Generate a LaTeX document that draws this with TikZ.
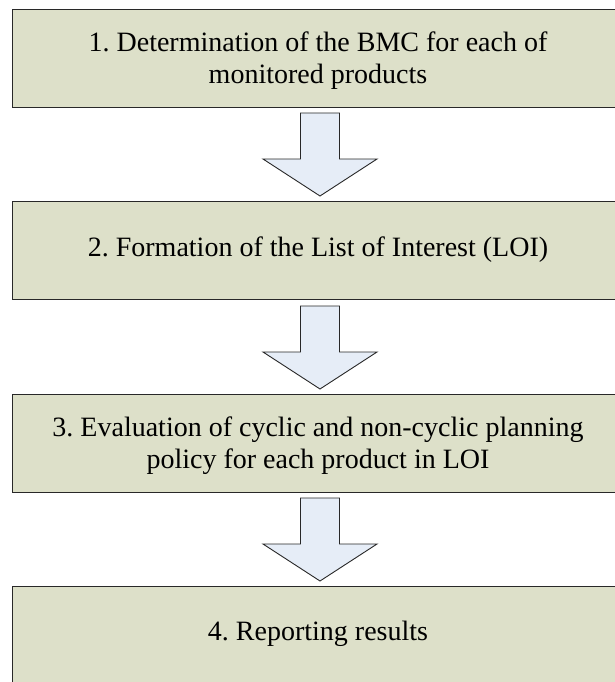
\documentclass[tikz,border=0pt]{standalone}
\usepackage{fontspec}
\setmainfont{Liberation Serif}
\frenchspacing
\definecolor{boxfill}{RGB}{221,224,201}
\definecolor{arrfill}{RGB}{230,237,247}
\definecolor{boxline}{RGB}{40,40,40}
\begin{document}
\begin{tikzpicture}[x=1pt,y=-1pt,
  stepbox/.style={draw=boxline,line width=1.4pt,fill=boxfill,minimum width=613pt,minimum height=98pt,anchor=north west,inner sep=0pt},
  steptext/.style={align=center,inner sep=0pt,font=\fontsize{28}{32}\selectfont},
  bigarrow/.style={draw=boxline,line width=0.9pt,fill=arrfill,line join=miter}]
\useasboundingbox (0,0) rectangle (614,682);
\node[stepbox] (b1) at (11.5,9) {};
\node[stepbox] (b2) at (11.5,201) {};
\node[stepbox] (b3) at (11.5,394) {};
\node[stepbox] (b4) at (11.5,586) {};
\node[steptext] (t1) at (318,61) {1. Determination of the BMC for each of\\monitored products};
\node[steptext] (t2) at (318,250) {2. Formation of the List of Interest (LOI)};
\node[steptext] (t3) at (318,446) {3. Evaluation of cyclic and non-cyclic planning\\policy for each product in LOI};
\node[steptext] (t4) at (318,634) {4. Reporting results};
\foreach \t in {113,306,498}{
  \draw[bigarrow] (300.5,\t) -- (339.5,\t) -- (339.5,\t+46) -- (377,\t+46) -- (320,\t+83) -- (263,\t+46) -- (300.5,\t+46) -- cycle;
}
\end{tikzpicture}
\end{document}
